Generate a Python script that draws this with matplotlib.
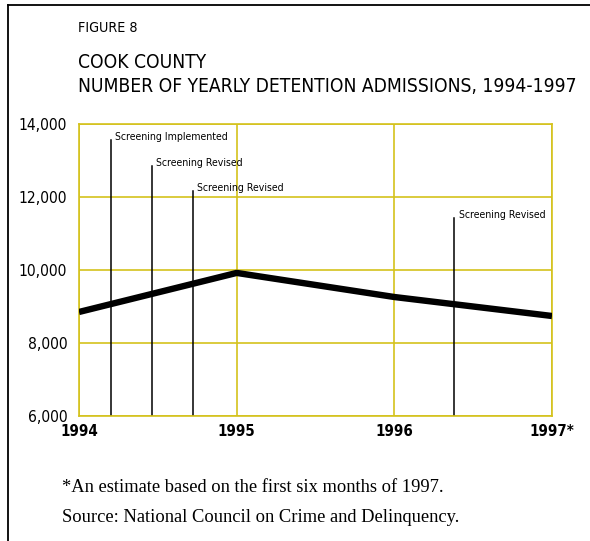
import matplotlib
matplotlib.use("Agg")
import matplotlib.pyplot as plt
from matplotlib import font_manager as fm
from matplotlib.lines import Line2D

# data
years = [1994, 1995, 1996, 1997]
admissions = [8850, 9920, 9260, 8740]
year_labels = ["1994", "1995", "1996", "1997*"]

event_x = [1994.20, 1994.46, 1994.72, 1996.38]
event_top = [13560, 12850, 12160, 11420]
event_text = ["Screening Implemented", "Screening Revised", "Screening Revised", "Screening Revised"]

y_ticks = [6000, 8000, 10000, 12000, 14000]

GRID = "#d4c21c"
SERIF = ["Liberation Serif", "DejaVu Serif"]

# look for any narrow / condensed face on the system
reg_file, bold_file = None, None
for f in fm.fontManager.ttflist:
    name = (f.fname + " " + f.name).lower()
    if "narrow" in name or "condensed" in name:
        if f.weight in ("bold", 700) or "bold" in f.fname.lower():
            if bold_file is None and "italic" not in f.fname.lower() and "oblique" not in f.fname.lower():
                bold_file = f.fname
        elif "italic" not in f.fname.lower() and "oblique" not in f.fname.lower() and reg_file is None:
            reg_file = f.fname


def narrow(size, bold=False):
    path = bold_file if bold else reg_file
    if path:
        return fm.FontProperties(fname=path, size=size)
    return fm.FontProperties(family="Roboto", size=size * 0.82,
                             weight="bold" if bold else "normal")


fig = plt.figure(figsize=(5.9, 5.41), dpi=100)
ax = fig.add_axes([79 / 590, 1 - 416 / 541, 473 / 590, 292 / 541])

ax.plot(years, admissions, color="black", lw=4.6, solid_capstyle="butt", zorder=3)
for x, top, txt in zip(event_x, event_top, event_text):
    ax.plot([x, x], [6000, top], color="black", lw=1.1, zorder=2)
    ax.annotate(txt, (x, top), xytext=(3.5, 0), textcoords="offset points",
                ha="left", va="baseline", fontproperties=narrow(7.6))

ax.set_xlim(1994, 1997)
ax.set_ylim(6000, 14000)
ax.set_xticks(years)
ax.set_xticklabels(year_labels, fontproperties=narrow(10.8, bold=True))
ax.set_yticks(y_ticks)
ax.set_yticklabels(["{:,}".format(v) for v in y_ticks], fontproperties=narrow(11.2))
ax.tick_params(axis="x", length=0, pad=6)
ax.tick_params(axis="y", length=0, pad=8.5)
ax.grid(True, color=GRID, lw=1.2, zorder=1)
for s in ax.spines.values():
    s.set_color(GRID)
    s.set_linewidth(1.2)

# titles
fig.text(78 / 590, 1 - 28 / 541, "FIGURE 8", fontproperties=narrow(10.3), va="center")
fig.text(78 / 590, 1 - 62 / 541, "COOK COUNTY", fontproperties=narrow(13.75), va="center")
fig.text(78 / 590, 1 - 87 / 541, "NUMBER OF YEARLY DETENTION ADMISSIONS, 1994-1997",
         fontproperties=narrow(13.75), va="center")

# footnotes
fig.text(62 / 590, 1 - 488 / 541, "*An estimate based on the first six months of 1997.",
         family=SERIF, fontsize=13.3, va="center")
fig.text(62 / 590, 1 - 518 / 541, "Source: National Council on Crime and Delinquency.",
         family=SERIF, fontsize=13.3, va="center")

# partial frame: top and left only
fig.add_artist(Line2D([8 / 590, 1], [1 - 4.5 / 541] * 2, transform=fig.transFigure,
                      color="black", lw=1.3))
fig.add_artist(Line2D([8 / 590] * 2, [0, 1 - 4.5 / 541], transform=fig.transFigure,
                      color="black", lw=1.3))

fig.savefig("out.png", dpi=100)
